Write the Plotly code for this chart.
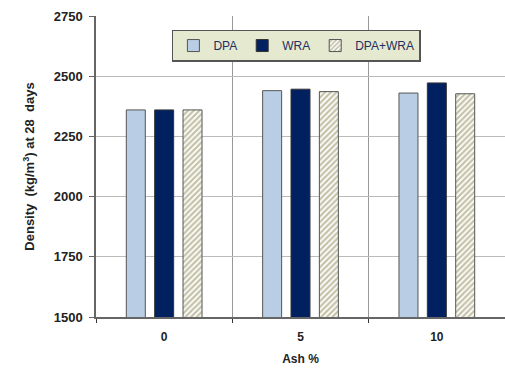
import plotly.graph_objects as go

categories = ["0", "5", "10"]
dpa = [2360, 2440, 2430]
wra = [2360, 2446, 2472]
dpa_wra = [2360, 2436, 2427]
y_ticks = [1500, 1750, 2000, 2250, 2500, 2750]

FONT = "Liberation Sans, Arial, sans-serif"

fig = go.Figure()
fig.add_bar(name="DPA", x=categories, y=dpa,
            marker=dict(color="#b9cde5", line=dict(color="#555555", width=1)))
fig.add_bar(name="WRA", x=categories, y=wra,
            marker=dict(color="#00205f", line=dict(color="#333333", width=1)))
fig.add_bar(name="DPA+WRA", x=categories, y=dpa_wra,
            marker=dict(color="white", line=dict(color="#555555", width=1),
                        pattern=dict(shape="/", fgcolor="#8a8550", bgcolor="white",
                                     size=4, solidity=0.55)))

fig.update_layout(
    width=505, height=369,
    margin=dict(l=96, r=0, t=16, b=52, autoexpand=False),
    paper_bgcolor="white", plot_bgcolor="white",
    barmode="group", bargap=0.376, bargroupgap=0.33,
    font=dict(family=FONT, size=11, color="#222222"),
    showlegend=True,
    legend=dict(orientation="h", x=0.49, y=0.955, xanchor="center", yanchor="top",
                bgcolor="#e4e9cf", bordercolor="#555555", borderwidth=1.5,
                font=dict(size=12, color="#1f2f5f"), itemwidth=30,
                traceorder="normal"),
    xaxis=dict(type="category", tickson="boundaries", showgrid=True, gridcolor="#999999",
               gridwidth=1, showline=True, linecolor="#666666", linewidth=1.5,
               ticks="outside", ticklen=4, tickcolor="#333333", ticklabelstandoff=8,
               tickfont=dict(size=12, color="#222222", family=FONT, weight="bold"),
               title=dict(text="<b>Ash %</b>", font=dict(size=12), standoff=11)),
    yaxis=dict(range=[1500, 2750], tickvals=y_ticks, showgrid=True, gridcolor="#bbbbbb",
               gridwidth=1, showline=True, linecolor="#666666", linewidth=1.5,
               ticks="outside", ticklen=5, tickcolor="#666666", zeroline=False,
               ticklabelstandoff=4,
               tickfont=dict(size=13, color="#222222", weight="bold"),
               title=dict(text="<b>Density  (kg/m<sup>3</sup>) at 28  days</b>", font=dict(size=13), standoff=16)),
)

fig.write_html("out.html", config={"displayModeBar": False},
               post_script="document.body.style.margin='0';")
